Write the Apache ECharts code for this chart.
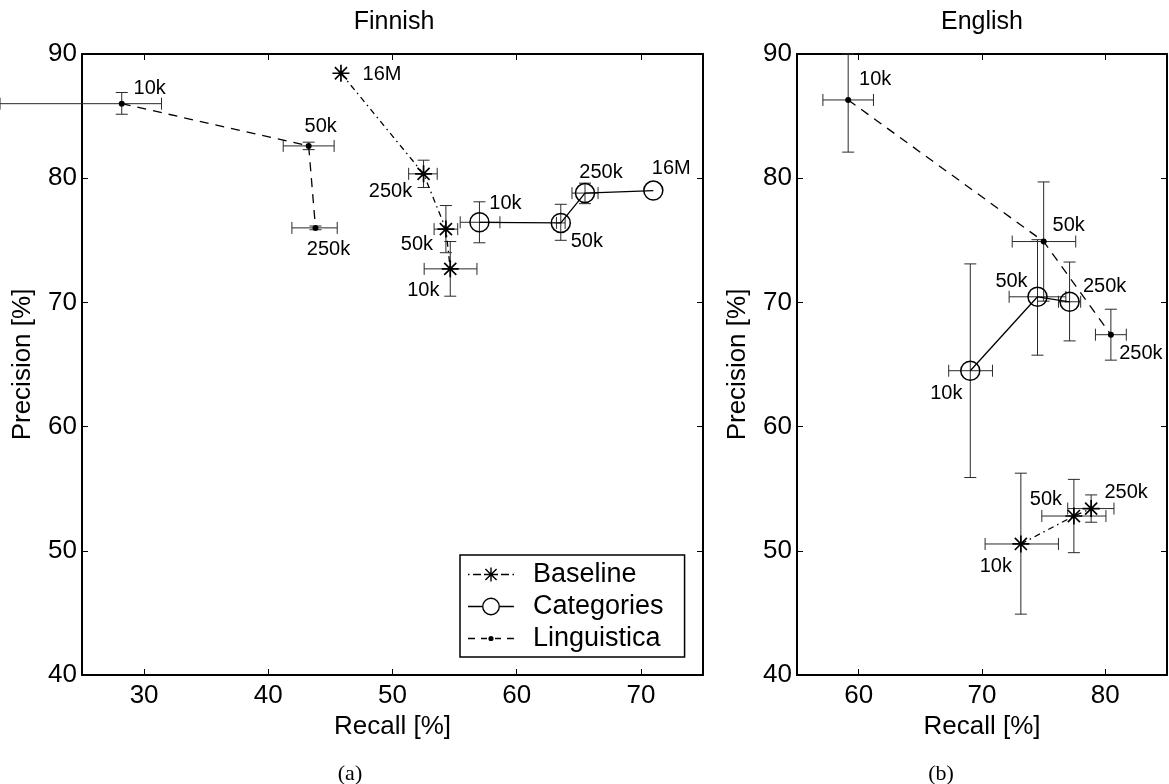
<!DOCTYPE html>
<html>
<head>
<meta charset="utf-8">
<title>Precision / Recall</title>
<script src="https://cdn.jsdelivr.net/npm/echarts@6/dist/echarts.min.js"></script>
<style>
  html, body { margin: 0; padding: 0; background: #fff; }
  #chart { width: 1169px; height: 784px; }
</style>
</head>
<body>
<div id="chart"></div>
<script>
// ---- data ----
// Finnish
const finRecallTicks = [30, 40, 50, 60, 70];
const finBaseLabels = ['16M', '250k', '50k', '10k'];
const finBaseRecall = [45.85, 52.5, 54.3, 54.65];
const finBasePrec = [88.45, 80.35, 75.9, 72.7];
const finBaseRecallErr = [null, [51.3, 53.6], [53.35, 55.25], [52.55, 56.8]];
const finBasePrecErr = [null, [79.25, 81.45], [74.0, 77.8], [70.5, 74.9]];

const finCatLabels = ['10k', '50k', '250k', '16M'];
const finCatRecall = [57.0, 63.55, 65.5, 71.0];
const finCatPrec = [76.45, 76.4, 78.8, 79.0];
const finCatRecallErr = [[55.45, 58.65], [63.2, 63.9], [64.45, 66.55], null];
const finCatPrecErr = [[74.8, 78.1], [75.0, 77.9], [77.95, 79.6], null];

const finLingLabels = ['10k', '50k', '250k'];
const finLingRecall = [28.2, 43.25, 43.8];
const finLingPrec = [86.0, 82.6, 76.0];
const finLingRecallErr = [[18.4, 31.4], [41.2, 45.3], [41.9, 45.55]];
const finLingPrecErr = [[85.15, 86.9], [82.3, 82.9], [75.85, 76.15]];

// English
const engRecallTicks = [60, 70, 80];
const engBaseLabels = ['10k', '50k', '250k'];
const engBaseRecall = [73.15, 77.45, 78.85];
const engBasePrec = [50.55, 52.8, 53.4];
const engBaseRecallErr = [[70.25, 76.2], [74.85, 80.05], [76.95, 80.7]];
const engBasePrecErr = [[44.9, 56.25], [49.85, 55.75], [52.3, 54.5]];

const engCatLabels = ['10k', '50k', '250k'];
const engCatRecall = [69.05, 74.5, 77.1];
const engCatPrec = [64.5, 70.45, 70.05];
const engCatRecallErr = [[67.3, 70.85], [72.2, 76.8], [76.2, 78.0]];
const engCatPrecErr = [[55.9, 73.1], [65.75, 75.05], [66.9, 73.25]];

const engLingLabels = ['10k', '50k', '250k'];
const engLingRecall = [59.15, 75.0, 80.45];
const engLingPrec = [86.3, 74.9, 67.4];
const engLingRecallErr = [[57.1, 61.2], [72.45, 77.6], [79.2, 81.7]];
const engLingPrecErr = [[82.1, 90.0], [70.1, 79.7], [65.35, 69.45]];

// label placement (pixel offset of label centre from the point)
const finBaseLabelPos = [[41, 1], [-33, 18], [-29, 15], [-27, 22]];
const finCatLabelPos = [[26, -19], [26, 19], [16, -21], [18, -22]];
const finLingLabelPos = [[28, -15], [12, -19], [13, 22]];
const engBaseLabelPos = [[-25, 23], [-28, -17], [35, -16]];
const engCatLabelPos = [[-24, 23], [-26, -15], [35, -15]];
const engLingLabelPos = [[27, -20], [25, -16], [30, 19]];

const FONT = 'Liberation Sans, Arial, Helvetica, sans-serif';
const STAR = 'path://M9,0 L11,0 L11,20 L9,20 Z M0,9 L20,9 L20,11 L0,11 Z ' +
  'M2.2,3.6 L3.6,2.2 L17.8,16.4 L16.4,17.8 Z M16.4,2.2 L17.8,3.6 L3.6,17.8 L2.2,16.4 Z';

// legend icons: 46 x 18 drawings of line + marker
function rect(x1, y1, x2, y2) {
  return 'M' + x1 + ',' + y1 + ' L' + x2 + ',' + y1 + ' L' + x2 + ',' + y2 + ' L' + x1 + ',' + y2 + ' Z ';
}
function hseg(x1, x2) { return rect(x1, 8.35, x2, 9.65); }
const corners = 'M0,0 L0.01,0 L0,0.01 Z M46,18 L45.99,18 L46,17.99 Z ';
const iconBaseline = 'path://' + corners + hseg(0, 1.5) + hseg(5, 13) + hseg(33, 41) + hseg(44.5, 46) +
  rect(22.3, 2, 23.7, 16) + rect(16, 8.3, 30, 9.7) +
  'M17.9,2.9 L29.1,14.1 L28.1,15.1 L16.9,3.9 Z M29.1,3.9 L17.9,15.1 L16.9,14.1 L28.1,2.9 Z';
const iconCategories = 'path://' + hseg(0, 14) + hseg(32, 46) +
  'M14,9 A9,9 0 1 1 32,9 A9,9 0 1 1 14,9 Z M30.6,9 A7.6,7.6 0 1 0 15.4,9 A7.6,7.6 0 1 0 30.6,9 Z';
const iconLinguistica = 'path://' + corners + hseg(0, 7) + hseg(13, 19) + hseg(27, 33) + hseg(39, 46) +
  'M20.4,9 A2.6,2.6 0 1 1 25.6,9 A2.6,2.6 0 1 1 20.4,9 Z';

const styles = {
  Baseline: { symbol: STAR, symbolSize: 17, lineType: [6, 4, 1.5, 4], fill: '#000', border: 0 },
  Categories: { symbol: 'circle', symbolSize: 19, lineType: 'solid', fill: 'rgba(0,0,0,0)', border: 1.5 },
  Linguistica: { symbol: 'circle', symbolSize: 6, lineType: [9, 7], fill: '#000', border: 0 }
};

function lineSeries(name, gi, recall, prec, labels, pos) {
  const s = styles[name];
  return {
    name: name,
    type: 'line',
    xAxisIndex: gi * 2,
    yAxisIndex: gi * 2,
    symbol: s.symbol,
    symbolSize: s.symbolSize,
    symbolKeepAspect: true,
    z: 5,
    lineStyle: { color: '#000', width: 1.3, type: s.lineType },
    itemStyle: { color: s.fill, borderColor: '#000', borderWidth: s.border },
    emphasis: { disabled: true },
    data: recall.map((x, i) => ({
      value: [x, prec[i]],
      label: {
        show: true,
        formatter: labels[i],
        position: 'inside',
        align: 'center',
        verticalAlign: 'middle',
        offset: pos[i],
        fontSize: 20,
        fontFamily: FONT,
        color: '#000'
      }
    }))
  };
}

function errorSeries(name, gi, recall, prec, rErr, pErr) {
  const rows = [];
  recall.forEach((x, i) => {
    if (rErr[i] && pErr[i]) {
      rows.push([x, prec[i], rErr[i][0], rErr[i][1], pErr[i][0], pErr[i][1]]);
    }
  });
  return {
    name: name + ' err',
    type: 'custom',
    xAxisIndex: gi * 2,
    yAxisIndex: gi * 2,
    z: 3,
    silent: true,
    encode: { x: 0, y: 1 },
    data: rows,
    renderItem: function (params, api) {
      const x = api.value(0), y = api.value(1);
      const st = { stroke: '#2a2a2a', lineWidth: 1, fill: null };
      const cap = 6;
      const l = api.coord([api.value(2), y]);
      const r = api.coord([api.value(3), y]);
      const b = api.coord([x, api.value(4)]);
      const t = api.coord([x, api.value(5)]);
      const seg = (x1, y1, x2, y2) => ({ type: 'line', shape: { x1, y1, x2, y2 }, style: st });
      return {
        type: 'group',
        children: [
          seg(l[0], l[1], r[0], r[1]),
          seg(l[0], l[1] - cap, l[0], l[1] + cap),
          seg(r[0], r[1] - cap, r[0], r[1] + cap),
          seg(b[0], b[1], t[0], t[1]),
          seg(b[0] - cap, b[1], b[0] + cap, b[1]),
          seg(t[0] - cap, t[1], t[0] + cap, t[1])
        ]
      };
    }
  };
}

function axisPairX(gi, min, max, ticks) {
  const common = {
    gridIndex: gi, type: 'value', min: min, max: max,
    axisLine: { show: true, onZero: false, lineStyle: { color: '#000', width: 2 } },
    axisTick: { show: true, inside: true, length: 6, customValues: ticks, lineStyle: { color: '#000', width: 1 } },
    splitLine: { show: false }
  };
  return [
    Object.assign({}, common, {
      position: 'bottom',
      axisLabel: { customValues: ticks, fontSize: 26, fontFamily: FONT, color: '#000', margin: 8 },
      name: 'Recall [%]', nameLocation: 'middle', nameGap: 37,
      nameTextStyle: { fontSize: 26, fontFamily: FONT, color: '#000' }
    }),
    Object.assign({}, common, { position: 'top', axisLabel: { show: false } })
  ];
}

function axisPairY(gi) {
  const common = {
    gridIndex: gi, type: 'value', min: 40, max: 90, interval: 10,
    axisLine: { show: true, onZero: false, lineStyle: { color: '#000', width: 2 } },
    axisTick: { show: true, inside: true, length: 6, lineStyle: { color: '#000', width: 1 } },
    splitLine: { show: false }
  };
  return [
    Object.assign({}, common, {
      position: 'left',
      axisLabel: { fontSize: 26, fontFamily: FONT, color: '#000', margin: 5 },
      name: 'Precision [%]', nameLocation: 'middle', nameGap: 46,
      nameTextStyle: { fontSize: 26, fontFamily: FONT, color: '#000' }
    }),
    Object.assign({}, common, { position: 'right', axisLabel: { show: false } })
  ];
}

const chart = echarts.init(document.getElementById('chart'), null, { renderer: 'canvas' });

const legendItem = (name, icon) => ({ name: name, icon: icon, itemStyle: { color: '#000', borderWidth: 0 } });

const option = {
  animation: false,
  backgroundColor: '#fff',
  grid: [
    { left: 82, top: 54, width: 621, height: 621 },
    { left: 797, top: 54, width: 370, height: 621 }
  ],
  xAxis: axisPairX(0, 25, 75, finRecallTicks).concat(axisPairX(1, 55, 85, engRecallTicks)),
  yAxis: axisPairY(0).concat(axisPairY(1)),
  legend: {
    left: 460, top: 555,
    orient: 'vertical',
    data: [
      legendItem('Baseline', iconBaseline),
      legendItem('Categories', iconCategories),
      legendItem('Linguistica', iconLinguistica)
    ],
    itemWidth: 46, itemHeight: 18, itemGap: 5,
    padding: [6, 21, 5, 8],
    borderColor: '#000', borderWidth: 1.5, borderRadius: 0,
    backgroundColor: '#fff',
    selectedMode: false,
    textStyle: { fontSize: 27, fontFamily: FONT, color: '#000', padding: [0, 0, 0, 14] }
  },
  graphic: [
    { type: 'text', x: 394, y: 22, style: { text: 'Finnish', font: '25px ' + FONT, fill: '#000', textAlign: 'center', textVerticalAlign: 'middle', align: 'center', verticalAlign: 'middle' } },
    { type: 'text', x: 982, y: 22, style: { text: 'English', font: '25px ' + FONT, fill: '#000', textAlign: 'center', textVerticalAlign: 'middle', align: 'center', verticalAlign: 'middle' } },
    { type: 'text', x: 350, y: 774, style: { text: '(a)', font: '22px Liberation Serif, Times New Roman, serif', fill: '#000', textAlign: 'center', textVerticalAlign: 'middle', align: 'center', verticalAlign: 'middle' } },
    { type: 'text', x: 941, y: 774, style: { text: '(b)', font: '22px Liberation Serif, Times New Roman, serif', fill: '#000', textAlign: 'center', textVerticalAlign: 'middle', align: 'center', verticalAlign: 'middle' } }
  ],
  series: [
    errorSeries('Baseline', 0, finBaseRecall, finBasePrec, finBaseRecallErr, finBasePrecErr),
    errorSeries('Categories', 0, finCatRecall, finCatPrec, finCatRecallErr, finCatPrecErr),
    errorSeries('Linguistica', 0, finLingRecall, finLingPrec, finLingRecallErr, finLingPrecErr),
    errorSeries('Baseline', 1, engBaseRecall, engBasePrec, engBaseRecallErr, engBasePrecErr),
    errorSeries('Categories', 1, engCatRecall, engCatPrec, engCatRecallErr, engCatPrecErr),
    errorSeries('Linguistica', 1, engLingRecall, engLingPrec, engLingRecallErr, engLingPrecErr),
    lineSeries('Baseline', 0, finBaseRecall, finBasePrec, finBaseLabels, finBaseLabelPos),
    lineSeries('Categories', 0, finCatRecall, finCatPrec, finCatLabels, finCatLabelPos),
    lineSeries('Linguistica', 0, finLingRecall, finLingPrec, finLingLabels, finLingLabelPos),
    lineSeries('Baseline', 1, engBaseRecall, engBasePrec, engBaseLabels, engBaseLabelPos),
    lineSeries('Categories', 1, engCatRecall, engCatPrec, engCatLabels, engCatLabelPos),
    lineSeries('Linguistica', 1, engLingRecall, engLingPrec, engLingLabels, engLingLabelPos)
  ]
};

chart.setOption(option);
</script>
</body>
</html>
